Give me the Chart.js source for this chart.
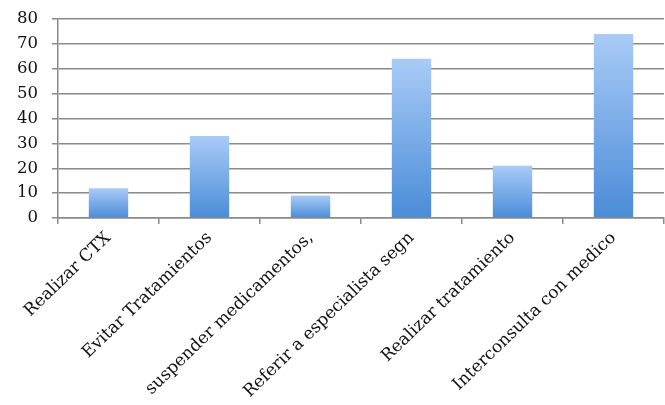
<!DOCTYPE html>
<html>
<head>
<meta charset="utf-8">
<script src="https://cdn.jsdelivr.net/npm/chart.js@4/dist/chart.umd.min.js"></script>
<style>
  html, body { margin: 0; padding: 0; background: #fff; }
  #wrap { width: 665px; height: 405px; }
</style>
</head>
<body>
<div id="wrap"><canvas id="chart"></canvas></div>
<script>
// categories and values
const categories = [
  "Realizar CTX",
  "Evitar Tratamientos",
  "suspender medicamentos,",
  "Referir a especialista segn",
  "Realizar tratamiento",
  "Interconsulta con medico"
];
const values = [12, 33, 9, 64, 21, 74];
const yTicks = [0, 10, 20, 30, 40, 50, 60, 70, 80];

const gridGrey = '#8a8a8a';
const serif = "'DejaVu Serif', 'Liberation Serif', serif";

// vertical gradient per bar, light at the top, darker at the base
function barFill(c) {
  const chart = c.chart;
  const y = chart.scales.y;
  if (!chart.chartArea || !y || !c.parsed) return '#7aaee8';
  const top = y.getPixelForValue(c.parsed.y);
  const base = y.getPixelForValue(0);
  if (!isFinite(top) || !isFinite(base)) return '#7aaee8';
  const g = chart.ctx.createLinearGradient(0, top, 0, base);
  g.addColorStop(0, '#a9cbf6');
  g.addColorStop(1, '#4a8cd8');
  return g;
}

const ctx = document.getElementById('chart').getContext('2d');
new Chart(ctx, {
  type: 'bar',
  data: {
    labels: categories,
    datasets: [{
      data: values,
      backgroundColor: barFill,
      borderWidth: 0,
      categoryPercentage: 1,
      barPercentage: 0.39
    }]
  },
  options: {
    responsive: true,
    maintainAspectRatio: false,
    animation: false,
    layout: { padding: { top: 19, right: 1, left: 0, bottom: 0 } },
    plugins: { legend: { display: false }, tooltip: { enabled: false } },
    scales: {
      x: {
        offset: true,
        grid: {
          display: true,
          drawOnChartArea: false,
          drawTicks: true,
          tickLength: 6,
          color: gridGrey,
          lineWidth: 1.5
        },
        border: { display: true, color: gridGrey, width: 1.5 },
        ticks: {
          color: '#111',
          font: { family: serif, size: 17 },
          maxRotation: 44,
          minRotation: 44,
          autoSkip: false,
          padding: 4
        },
        afterFit: s => { s.height = 187; }
      },
      y: {
        min: 0,
        max: 80,
        afterBuildTicks: s => { s.ticks = yTicks.map(v => ({ value: v })); },
        grid: {
          color: gridGrey,
          lineWidth: 1.5,
          tickLength: 6
        },
        border: { display: true, color: gridGrey, width: 1.5 },
        ticks: {
          color: '#111',
          font: { family: serif, size: 16.5 },
          autoSkip: false,
          padding: 14
        },
        afterFit: s => { s.width = 58; s.paddingTop = 0; }
      }
    }
  }
});
</script>
</body>
</html>
